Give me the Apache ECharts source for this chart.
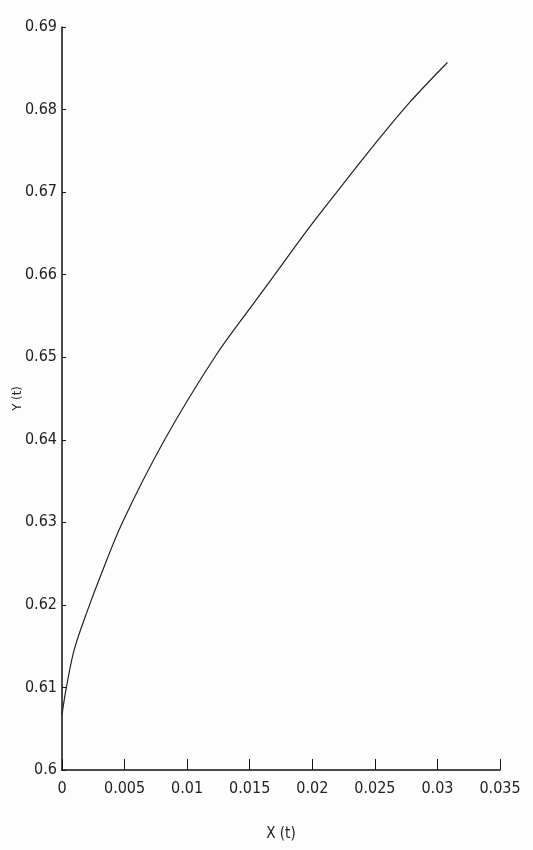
<!DOCTYPE html>
<html>
<head>
<meta charset="utf-8">
<script src="https://cdn.jsdelivr.net/npm/echarts@6/dist/echarts.min.js"></script>
<style>
  html, body { margin: 0; padding: 0; background: #fff; }
  #main { width: 533px; height: 850px; }
</style>
</head>
<body>
<div id="main"></div>
<script>
// points
var xVals = [0, 0.00035, 0.001, 0.0022, 0.003, 0.0048, 0.0082, 0.0122, 0.0154, 0.0169, 0.0196, 0.0218, 0.0252, 0.0278, 0.0308];
var yVals = [0.6067, 0.61, 0.6147, 0.62, 0.6232, 0.6299, 0.64, 0.65, 0.6567, 0.6598, 0.6654, 0.6697, 0.6762, 0.6809, 0.6857];

var pts = xVals.map(function (x, i) { return [x, yVals[i]]; });

var chartDom = document.getElementById('main');
var myChart = echarts.init(chartDom);
var labelFont = '"DejaVu Sans Condensed", "Liberation Sans Narrow", sans-serif';

var option = {
  animation: false,
  backgroundColor: '#fdfdfd',
  grid: { left: 62, right: 33, top: 27, bottom: 80, containLabel: false, outerBoundsMode: 'none' },
  xAxis: {
    type: 'value',
    min: 0, max: 0.035, interval: 0.005,
    name: 'X (t)',
    nameLocation: 'middle',
    nameGap: 57,
    nameTextStyle: { fontFamily: labelFont, fontSize: 15, color: '#222' },
    axisLine: { lineStyle: { color: '#111', width: 1.5 } },
    axisTick: { inside: true, length: 11, lineStyle: { color: '#111' } },
    axisLabel: { fontFamily: labelFont, fontSize: 16, color: '#222', margin: 11 },
    splitLine: { show: false }
  },
  yAxis: {
    type: 'value',
    min: 0.6, max: 0.69, interval: 0.01,
    name: 'Y (t)',
    nameLocation: 'middle',
    nameGap: 38,
    nameMoveOverlap: false,
    nameTextStyle: { fontFamily: labelFont, fontSize: 13, color: '#222' },
    axisLine: { show: true, lineStyle: { color: '#111', width: 1.5 } },
    axisTick: { show: true, inside: true, length: 4, lineStyle: { color: '#111' } },
    axisLabel: { fontFamily: labelFont, fontSize: 16, color: '#222', margin: 5 },
    splitLine: { show: false }
  },
  series: [
    {
      type: 'line',
      data: pts,
      smooth: 0.35,
      showSymbol: false,
      lineStyle: { color: '#222', width: 1.2 }
    }
  ]
};

option && myChart.setOption(option);
</script>
</body>
</html>
